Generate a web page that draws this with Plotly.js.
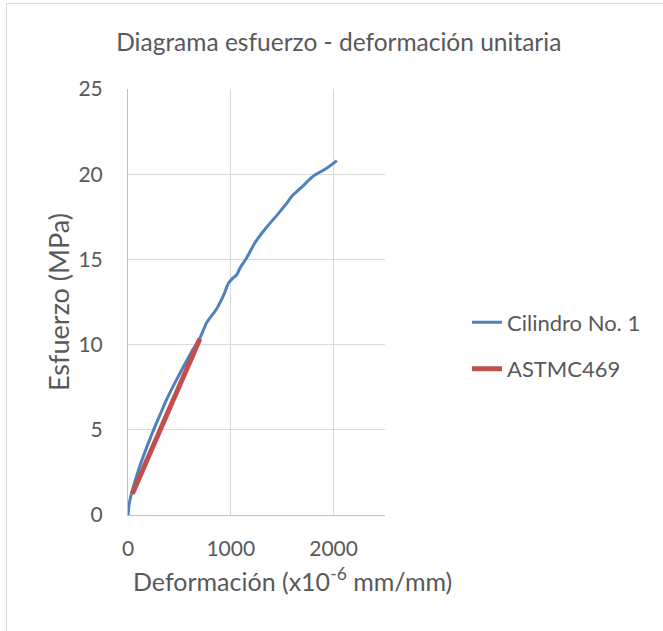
<!DOCTYPE html>
<html>
<head>
<meta charset="utf-8">
<script src="https://cdn.plot.ly/plotly-3.0.1.min.js"></script>
<style>
html,body{margin:0;padding:0;background:#fff;}
#wrap{position:relative;width:663px;height:631px;overflow:hidden;}
#chart{width:663px;height:631px;}
#frame{position:absolute;left:6px;top:3px;width:680px;height:660px;border:1px solid #d9d9d9;pointer-events:none;}
</style>
</head>
<body>
<div id="wrap"><div id="chart"></div><div id="frame"></div></div>
<script>
// Cilindro No. 1 (strain x10^-6, stress MPa)
var cilStrain = [0, 10, 36, 117, 190, 263, 320, 377, 460, 539, 620, 701, 766, 863, 930, 977, 1020, 1058, 1090, 1155, 1237, 1350, 1450, 1545, 1594, 1700, 1805, 1920, 2032];
var cilStress = [0, 0.6, 1.3, 2.9, 4.1, 5.2, 6.0, 6.8, 7.8, 8.7, 9.6, 10.4, 11.3, 12.1, 12.9, 13.6, 13.9, 14.1, 14.5, 15.1, 16.0, 16.9, 17.6, 18.3, 18.7, 19.3, 19.9, 20.3, 20.8];
// ASTMC469 chord line
var astmStrain = [42, 700];
var astmStress = [1.25, 10.35];

var font = "Lato, 'Open Sans', sans-serif";
var grey = "#595959";

var traces = [
  {x: cilStrain, y: cilStress, mode: "lines", name: "Cilindro No. 1", legendgroup: "a",
   line: {color: "#4F81BD", width: 3, shape: "spline", smoothing: 0.6}},
  {x: astmStrain, y: astmStress, mode: "lines", name: "ASTMC469", legendgroup: "b",
   line: {color: "#C0504D", width: 5}}
];

var layout = {
  width: 663, height: 631,
  margin: {l: 128, r: 278, t: 89, b: 116, pad: 0},
  paper_bgcolor: "#fff", plot_bgcolor: "#fff",
  font: {family: font, color: grey, size: 21},
  title: {text: "Diagrama esfuerzo - deformación unitaria", font: {family: font, size: 24.5, color: grey},
          x: 0.511, xref: "container", xanchor: "center", y: 0.932, yref: "container", yanchor: "middle"},
  xaxis: {range: [0, 2500], dtick: 1000, tick0: 0, showgrid: true, gridcolor: "#d9d9d9", gridwidth: 1,
          showline: true, linecolor: "#bfbfbf", linewidth: 1, zeroline: false, ticks: "",
          ticklabelstandoff: 15, tickfont: {family: font, size: 21, color: grey}},
  yaxis: {range: [0, 25], dtick: 5, tick0: 0, showgrid: true, gridcolor: "#d9d9d9", gridwidth: 1,
          showline: true, linecolor: "#bfbfbf", linewidth: 1, zeroline: false, ticks: "",
          ticklabelstandoff: 20, tickfont: {family: font, size: 21, color: grey},
          title: {text: "Esfuerzo (MPa)", font: {family: font, size: 27, color: grey}, standoff: 0}},
  annotations: [
    {text: "Deformación (x10<sup>-6</sup> mm/mm)", xref: "paper", yref: "paper", x: 0.642, y: -0.151,
     xanchor: "center", yanchor: "middle", showarrow: false, font: {family: font, size: 25, color: grey}}
  ],
  showlegend: true,
  legend: {x: 1.319, xanchor: "left", y: 0.397, yanchor: "middle", bgcolor: "rgba(0,0,0,0)",
           traceorder: "grouped", tracegroupgap: 15,
           font: {family: font, size: 22, color: grey}, itemwidth: 30}
};

Plotly.newPlot("chart", traces, layout, {displayModeBar: false, staticPlot: true});
</script>
</body>
</html>
